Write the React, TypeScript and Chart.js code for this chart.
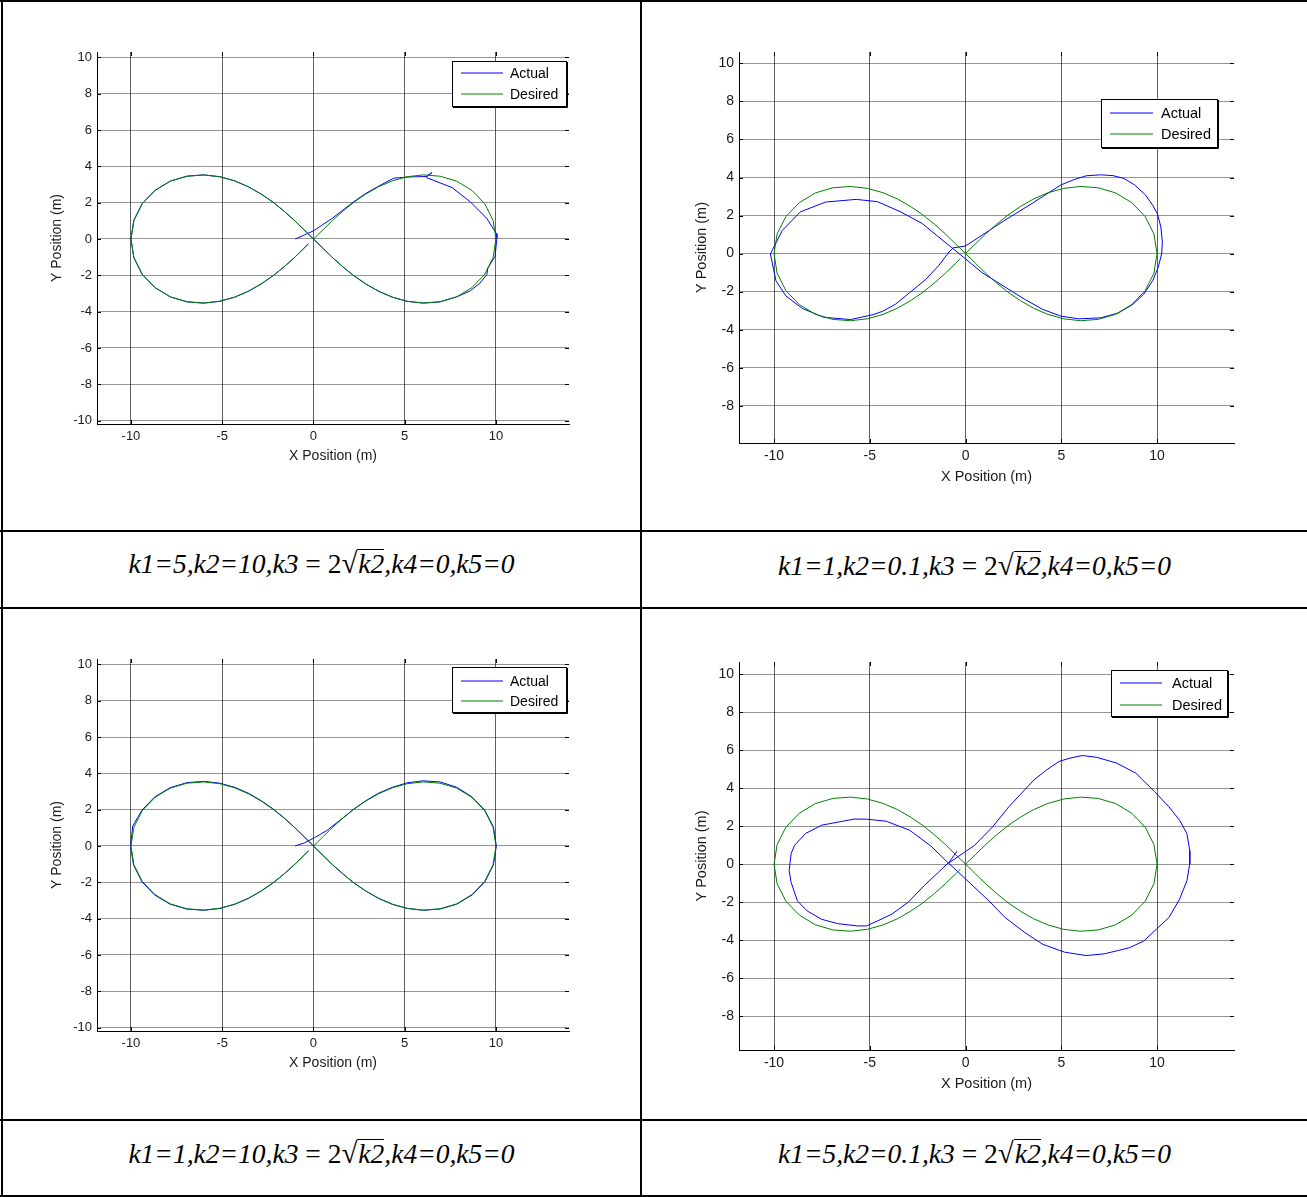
import React, { useEffect, useRef } from "react";
import { Chart, registerables } from "chart.js";

Chart.register(...registerables);
Chart.defaults.font.family = "'Liberation Sans', Arial, sans-serif";
Chart.defaults.color = "#1a1a1a";

// Axis ticks shared by every panel
const xTickValues = [-10, -5, 0, 5, 10];
const yTickValues = [-10, -8, -6, -4, -2, 0, 2, 4, 6, 8, 10];

const seriesLabels = ["Actual", "Desired"];
const seriesColors = ["#0000ff", "#008000"];

// Reference figure-eight path (same in all four runs)
const desiredX = [
  0, 0.53, 1.06, 1.62, 2.22, 2.86, 3.55, 4.31, 5.13, 6.01, 6.93, 7.84, 8.68, 9.38, 9.84,
  10, 9.84, 9.38, 8.68, 7.84, 6.93, 6.01, 5.13, 4.31, 3.55, 2.86, 2.22, 1.62, 1.06, 0.53,
  0, -0.53, -1.06, -1.62, -2.22, -2.86, -3.55, -4.31, -5.13, -6.01, -6.93, -7.84, -8.68, -9.38, -9.84,
  -10, -9.84, -9.38, -8.68, -7.84, -6.93, -6.01, -5.13, -4.31, -3.55, -2.86, -2.22, -1.62, -1.06, -0.53, -0.27,
];
const desiredY = [
  0, 0.52, 1.04, 1.54, 2.03, 2.47, 2.87, 3.2, 3.43, 3.53, 3.46, 3.19, 2.68, 1.95, 1.03,
  0, -1.03, -1.95, -2.68, -3.19, -3.46, -3.53, -3.43, -3.2, -2.87, -2.47, -2.03, -1.54, -1.04, -0.52,
  0, 0.52, 1.04, 1.54, 2.03, 2.47, 2.87, 3.2, 3.43, 3.53, 3.46, 3.19, 2.68, 1.95, 1.03,
  0, -1.03, -1.95, -2.68, -3.19, -3.46, -3.53, -3.43, -3.2, -2.87, -2.47, -2.03, -1.54, -1.04, -0.52, -0.26,
];

// Run 1: k1=5, k2=10
const actualX1 = [
  -1.0, -0.5, 0.0, 0.45, 1.0, 1.6, 2.2, 2.85, 3.55, 4.4, 5.3, 6.2, 6.5, 6.25, 6.2, 7.6, 8.6, 9.5, 10.02, 10.05,
  9.95, 9.55, 9.5, 9.1, 8.6, 7.84, 6.93, 6.01, 5.13, 4.31, 3.55, 2.86, 2.22, 1.62, 1.06, 0.53, 0, -0.53, -1.06, -1.62,
  -2.22, -2.86, -3.55, -4.31, -5.13, -6.01, -6.93, -7.84, -8.68, -9.38, -9.84, -10, -9.84, -9.38, -8.68, -7.84, -6.93, -6.01, -5.13, -4.31,
  -3.55, -2.86, -2.22, -1.62, -1.06, -0.53, -0.27,
];
const actualY1 = [
  0.0, 0.22, 0.45, 0.75, 1.12, 1.58, 2.05, 2.5, 2.9, 3.35, 3.42, 3.44, 3.66, 3.5, 3.38, 2.83, 2.04, 1.13, 0.3, 0.05,
  -0.95, -1.6, -1.96, -2.45, -2.85, -3.19, -3.46, -3.53, -3.43, -3.2, -2.87, -2.47, -2.03, -1.54, -1.04, -0.52, 0, 0.52, 1.04, 1.54,
  2.03, 2.47, 2.87, 3.2, 3.43, 3.53, 3.46, 3.19, 2.68, 1.95, 1.03, 0, -1.03, -1.95, -2.68, -3.19, -3.46, -3.53, -3.43, -3.2,
  -2.87, -2.47, -2.03, -1.54, -1.04, -0.52, -0.26,
];

// Run 2: k1=1, k2=0.1
const actualX2 = [
  -0.9, -0.65, 0.0, 0.85, 1.97, 3.48, 4.98, 5.64, 6.3, 7.05, 7.7, 8.27, 8.83, 9.4, 9.77, 10.02, 10.2, 10.28, 10.24, 10.06,
  9.77, 9.3, 8.74, 7.99, 7.05, 5.92, 4.98, 4.04, 3.1, 1.97, 0.85, 0.0, -0.75, -1.5, -2.26, -3.38, -4.6, -5.71, -7.31, -8.63,
  -9.57, -10.19, -9.9, -9.38, -8.53, -7.41, -6.0, -4.79, -4.32, -3.67, -2.91, -2.07, -1.41, -0.85,
];
const actualY2 = [
  0.05, 0.3, 0.4, 0.96, 1.7, 2.64, 3.61, 3.88, 4.09, 4.14, 4.1, 3.95, 3.61, 3.08, 2.55, 2.1, 1.4, 0.6, -0.02, -0.73,
  -1.43, -2.14, -2.67, -3.12, -3.38, -3.43, -3.29, -2.94, -2.41, -1.7, -0.99, -0.28, 0.34, 0.95, 1.58, 2.19, 2.73, 2.85, 2.71, 2.19,
  1.22, -0.02, -1.43, -2.23, -2.88, -3.35, -3.47, -3.2, -3.03, -2.67, -2.05, -1.35, -0.64, 0.1,
];

// Run 3: k1=1, k2=10
const actualX3 = [
  -1.0, -0.5, 0.06, 0.73, 1.62, 2.22, 2.86, 3.55, 4.31, 5.13, 6.01, 6.93, 7.84, 8.68, 9.38, 9.86, 10.02, 9.86, 9.4, 8.7,
  7.86, 6.95, 6.02, 5.13, 4.31, 3.55, 2.86, 2.22, 1.62, 1.06, 0.53, 0, -0.53, -1.06, -1.62, -2.22, -2.86, -3.55, -4.31, -5.13,
  -6.01, -6.93, -7.86, -8.7, -9.4, -9.9, -10.02, -9.86, -9.4, -8.7, -7.86, -6.95, -6.02, -5.13, -4.31, -3.55, -2.86, -2.22, -1.62, -1.06,
  -0.53, -0.27,
];
const actualY3 = [
  0, 0.17, 0.46, 0.85, 1.55, 2.04, 2.49, 2.9, 3.23, 3.48, 3.59, 3.53, 3.24, 2.71, 1.98, 1.05, 0, -1.04, -1.96, -2.69,
  -3.2, -3.47, -3.54, -3.44, -3.21, -2.88, -2.48, -2.04, -1.55, -1.05, -0.53, 0, 0.53, 1.05, 1.56, 2.05, 2.49, 2.9, 3.23, 3.46,
  3.56, 3.49, 3.21, 2.7, 1.97, 1.1, 0, -1.04, -1.97, -2.7, -3.2, -3.47, -3.54, -3.44, -3.21, -2.88, -2.48, -2.04, -1.55, -1.05,
  -0.53, -0.26,
];

// Run 4: k1=5, k2=0.1
const actualX4 = [
  -0.45, -0.88, 0.47, 1.41, 2.26, 3.57, 4.23, 4.89, 5.45, 6.11, 6.86, 7.89, 8.89, 9.87, 10.62, 11.18, 11.56, 11.71, 11.71, 11.56,
  11.18, 10.62, 9.96, 9.3, 8.55, 7.99, 7.24, 6.3, 5.17, 4.04, 3.1, 2.07, 1.22, 0.28, -0.56, -1.03, -1.79, -2.91, -4.14, -5.17,
  -5.83, -7.52, -8.36, -8.93, -9.11, -9.21, -9.11, -8.78, -8.27, -7.52, -6.67, -5.64, -5.17, -4.6, -3.85, -3.0, -2.16, -1.41, -0.9,
];
const actualY4 = [
  0.68, 0.06, 0.99, 1.96, 3.02, 4.43, 4.96, 5.41, 5.58, 5.72, 5.62, 5.32, 4.79, 3.82, 3.02, 2.31, 1.61, 0.72, 0.02, -0.87,
  -1.84, -2.81, -3.43, -4.05, -4.4, -4.54, -4.72, -4.81, -4.63, -4.22, -3.6, -2.81, -1.93, -1.04, -0.25, 0.19, 0.94, 1.78, 2.26, 2.37,
  2.37, 2.05, 1.61, 0.99, 0.55, -0.34, -0.95, -1.93, -2.46, -2.9, -3.13, -3.25, -3.25, -2.99, -2.63, -2.01, -1.13, -0.42, 0.07,
];

// Controller gains shown under each plot
const gainK1 = ["5", "1", "1", "5"];
const gainK2 = ["10", "0.1", "10", "0.1"];

type Rect = { left: number; top: number; width: number; height: number };
type Area = { l: number; t: number; r: number; b: number };
type LegendBox = {
  right: number; top: number; width: number; height: number;
  rowTop: number; rowGap: number; sampleLeft: number; sampleLen: number; textLeft: number;
  fontSize: number;
};
type Panel = {
  ax: number[]; ay: number[];
  xRange: [number, number]; yRange: [number, number];
  canvas: Rect; area: Area;
  yTitlePad: number; xTitlePad: number;
  tickSize: number; titleSize: number;
  legend: LegendBox;
};

const panels: Panel[] = [
  {
    ax: actualX1, ay: actualY1, xRange: [-11.86, 14.0], yRange: [-10.19, 10.3],
    canvas: { left: 3, top: 2, width: 637, height: 528 }, area: { l: 97, t: 52, r: 569, b: 424 },
    yTitlePad: 46, xTitlePad: 65, tickSize: 13, titleSize: 14,
    legend: { right: 3, top: 9, width: 114, height: 45, rowTop: 12, rowGap: 21, sampleLeft: 9, sampleLen: 42, textLeft: 58, fontSize: 14 },
  },
  {
    ax: actualX2, ay: actualY2, xRange: [-11.83, 14.02], yRange: [-9.96, 10.6],
    canvas: { left: 642, top: 2, width: 665, height: 528 }, area: { l: 739, t: 52, r: 1234, b: 443 },
    yTitlePad: 51, xTitlePad: 44, tickSize: 14, titleSize: 14.5,
    legend: { right: 17, top: 47, width: 116, height: 48, rowTop: 14, rowGap: 21, sampleLeft: 9, sampleLen: 43, textLeft: 60, fontSize: 14.5 },
  },
  {
    ax: actualX3, ay: actualY3, xRange: [-11.86, 14.0], yRange: [-10.19, 10.3],
    canvas: { left: 3, top: 609, width: 637, height: 510 }, area: { l: 97, t: 659, r: 569, b: 1031 },
    yTitlePad: 46, xTitlePad: 47, tickSize: 13, titleSize: 14,
    legend: { right: 3, top: 8, width: 114, height: 45, rowTop: 14, rowGap: 20, sampleLeft: 9, sampleLen: 42, textLeft: 58, fontSize: 14 },
  },
  {
    ax: actualX4, ay: actualY4, xRange: [-11.83, 14.02], yRange: [-9.78, 10.64],
    canvas: { left: 642, top: 609, width: 665, height: 510 }, area: { l: 739, t: 662, r: 1234, b: 1050 },
    yTitlePad: 51, xTitlePad: 26, tickSize: 14, titleSize: 14.5,
    legend: { right: 7, top: 8, width: 116, height: 46, rowTop: 13, rowGap: 22, sampleLeft: 9, sampleLen: 42, textLeft: 61, fontSize: 14.5 },
  },
];

// Short inward tick marks on all four sides of the plot box
const innerTicks = {
  id: "innerTicks",
  afterDatasetsDraw(chart: any) {
    const { ctx, chartArea: a, scales } = chart;
    const xs = scales.x;
    const ys = scales.y;
    const len = 4;
    ctx.save();
    ctx.strokeStyle = "#000";
    ctx.lineWidth = 1;
    ctx.beginPath();
    xs.ticks.forEach((t: any) => {
      const px = Math.round(xs.getPixelForValue(t.value)) + 0.5;
      ctx.moveTo(px, a.top);
      ctx.lineTo(px, a.top + len);
      ctx.moveTo(px, a.bottom);
      ctx.lineTo(px, a.bottom - len);
    });
    ys.ticks.forEach((t: any) => {
      const py = Math.round(ys.getPixelForValue(t.value)) + 0.5;
      ctx.moveTo(a.left, py);
      ctx.lineTo(a.left + len, py);
      ctx.moveTo(a.right, py);
      ctx.lineTo(a.right - len, py);
    });
    ctx.stroke();
    ctx.restore();
  },
};

// Boxed legend drawn inside the plot area
const boxedLegend = {
  id: "boxedLegend",
  afterDraw(chart: any, _args: any, opts: any) {
    const { ctx, chartArea } = chart;
    const x0 = Math.round(chartArea.right - opts.right - opts.width);
    const y0 = Math.round(chartArea.top + opts.top);
    const w = opts.width;
    const h = opts.height;
    ctx.save();
    ctx.fillStyle = "#fff";
    ctx.fillRect(x0, y0, w, h);
    ctx.strokeStyle = "#000";
    ctx.lineWidth = 1;
    ctx.strokeRect(x0 + 0.5, y0 + 0.5, w, h);
    ctx.beginPath();
    ctx.moveTo(x0 + w + 1.5, y0 + 1);
    ctx.lineTo(x0 + w + 1.5, y0 + h + 1.5);
    ctx.lineTo(x0 + 1, y0 + h + 1.5);
    ctx.stroke();
    ctx.font = `${opts.fontSize}px 'Liberation Sans', Arial, sans-serif`;
    ctx.textBaseline = "middle";
    ctx.textAlign = "left";
    chart.data.datasets.forEach((ds: any, i: number) => {
      const y = y0 + opts.rowTop + i * opts.rowGap;
      ctx.strokeStyle = seriesColors[i];
      ctx.lineWidth = 1.2;
      ctx.beginPath();
      ctx.moveTo(x0 + opts.sampleLeft, y);
      ctx.lineTo(x0 + opts.sampleLeft + opts.sampleLen, y);
      ctx.stroke();
      ctx.fillStyle = "#000";
      ctx.fillText(ds.label, x0 + opts.textLeft, y + 1);
    });
    ctx.restore();
  },
};

function toPoints(xs: number[], ys: number[]) {
  const n = Math.min(xs.length, ys.length);
  const pts: { x: number; y: number }[] = [];
  for (let i = 0; i < n; i++) pts.push({ x: xs[i], y: ys[i] });
  return pts;
}

function TrajectoryPlot({ p }: { p: Panel }) {
  const ref = useRef<HTMLCanvasElement>(null);

  useEffect(() => {
    const c = p.canvas;
    const a = p.area;
    const chart = new Chart(ref.current as HTMLCanvasElement, {
      type: "scatter",
      data: {
        datasets: [
          {
            label: seriesLabels[0],
            data: toPoints(p.ax, p.ay),
            borderColor: seriesColors[0],
            backgroundColor: seriesColors[0],
            showLine: true,
            pointRadius: 0,
            borderWidth: 1,
            tension: 0,
            order: 1,
          },
          {
            label: seriesLabels[1],
            data: toPoints(desiredX, desiredY),
            borderColor: seriesColors[1],
            backgroundColor: seriesColors[1],
            showLine: true,
            pointRadius: 0,
            borderWidth: 1,
            tension: 0,
            order: 0,
          },
        ],
      },
      options: {
        animation: false,
        responsive: false,
        maintainAspectRatio: false,
        events: [],
        layout: {
          padding: { left: 0, top: a.t - c.top, right: c.left + c.width - a.r, bottom: 0 },
        },
        plugins: {
          legend: { display: false },
          tooltip: { enabled: false },
          boxedLegend: p.legend,
        } as any,
        scales: {
          x: {
            type: "linear",
            min: p.xRange[0],
            max: p.xRange[1],
            afterBuildTicks: (s: any) => {
              s.ticks = xTickValues.filter((v) => v >= s.min && v <= s.max).map((v) => ({ value: v }));
            },
            afterFit: (s: any) => {
              s.height = c.top + c.height - a.b;
            },
            ticks: { font: { size: p.tickSize }, padding: 5, maxRotation: 0, autoSkip: false, color: "#1a1a1a" },
            grid: { color: "rgba(0,0,0,0.62)", drawTicks: false, lineWidth: 1 },
            border: { display: true, color: "#000", width: 1 },
            title: {
              display: true,
              text: "X Position (m)",
              color: "#1a1a1a",
              font: { size: p.titleSize },
              padding: { top: 0, bottom: p.xTitlePad },
            },
          },
          y: {
            type: "linear",
            min: p.yRange[0],
            max: p.yRange[1],
            afterBuildTicks: (s: any) => {
              s.ticks = yTickValues.filter((v) => v >= s.min && v <= s.max).map((v) => ({ value: v }));
            },
            afterFit: (s: any) => {
              s.width = a.l - c.left;
            },
            ticks: { font: { size: p.tickSize }, padding: 5, autoSkip: false, color: "#1a1a1a" },
            grid: { color: "rgba(0,0,0,0.42)", drawTicks: false, lineWidth: 1 },
            border: { display: true, color: "#000", width: 1 },
            title: {
              display: true,
              text: "Y Position (m)",
              color: "#1a1a1a",
              font: { size: p.titleSize },
              padding: { top: p.yTitlePad, bottom: 0 },
            },
          },
        },
      } as any,
      plugins: [innerTicks, boxedLegend],
    });
    return () => chart.destroy();
  }, [p]);

  return (
    <canvas
      ref={ref}
      width={p.canvas.width}
      height={p.canvas.height}
      style={{
        position: "absolute",
        left: p.canvas.left,
        top: p.canvas.top,
        width: p.canvas.width,
        height: p.canvas.height,
        display: "block",
      }}
    />
  );
}

function GainCaption({ k1, k2, left, top, width, height }: { k1: string; k2: string; left: number; top: number; width: number; height: number }) {
  const italic: React.CSSProperties = { fontStyle: "italic" };
  return (
    <div
      style={{
        position: "absolute",
        left,
        top,
        width,
        height,
        display: "flex",
        alignItems: "center",
        justifyContent: "center",
        fontFamily: "'Liberation Serif', 'Times New Roman', serif",
        fontSize: 27.5,
        color: "#000",
        whiteSpace: "pre",
      }}
    >
      <span style={italic}>{`k1=${k1},k2=${k2},k3`}</span>
      <span>{" = 2"}</span>
      <span style={{ fontSize: 29, lineHeight: 1, position: "relative", top: -1 }}>√</span>
      <span style={{ ...italic, borderTop: "1.5px solid #000", lineHeight: 1.05, paddingLeft: 1 }}>k2</span>
      <span style={italic}>{",k4=0,k5=0"}</span>
    </div>
  );
}

export default function App() {
  const line = (left: number, top: number, width: number, height: number, key: string) => (
    <div key={key} style={{ position: "absolute", left, top, width, height, background: "#000" }} />
  );
  return (
    <div
      style={{
        position: "absolute",
        left: 0,
        top: 0,
        width: 1307,
        height: 1197,
        background: "#fff",
        overflow: "hidden",
      }}
    >
      {panels.map((p, i) => (
        <TrajectoryPlot key={i} p={p} />
      ))}
      <GainCaption k1={gainK1[0]} k2={gainK2[0]} left={3} top={532} width={637} height={64} />
      <GainCaption k1={gainK1[1]} k2={gainK2[1]} left={642} top={532} width={665} height={68} />
      <GainCaption k1={gainK1[2]} k2={gainK2[2]} left={3} top={1121} width={637} height={66} />
      <GainCaption k1={gainK1[3]} k2={gainK2[3]} left={642} top={1121} width={665} height={66} />
      {[
        line(0, 0, 1307, 2, "t"),
        line(1, 0, 2, 1197, "l"),
        line(640, 0, 2, 1197, "m"),
        line(0, 530, 1307, 2, "h1"),
        line(0, 607, 1307, 2, "h2"),
        line(0, 1119, 1307, 2, "h3"),
        line(0, 1195, 1307, 2, "b"),
      ]}
    </div>
  );
}
